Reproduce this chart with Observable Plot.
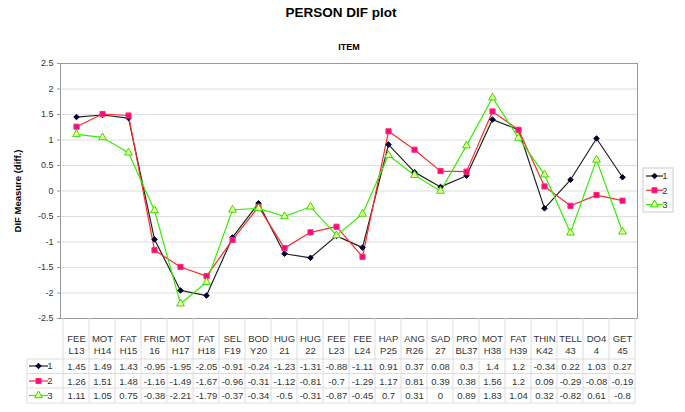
<!DOCTYPE html>
<html><head><meta charset="utf-8">
<script src="https://cdn.jsdelivr.net/npm/d3@7"></script>
<script src="https://cdn.jsdelivr.net/npm/@observablehq/plot@0.6"></script>
<style>
body{margin:0;background:#fff}
#chart{position:relative;width:685px;height:412px}
</style>
</head><body><div id="chart"></div>
<script>
const categories = ["FEE L13","MOT H14","FAT H15","FRIE 16","MOT H17","FAT H18","SEL F19","BOD Y20","HUG 21","HUG 22","FEE L23","FEE L24","HAP P25","ANG R26","SAD 27","PRO BL37","MOT H38","FAT H39","THIN K42","TELL 43","DO4 4","GET 45"];
const seriesNames = ["1","2","3"];
const values1 = [1.45,1.49,1.43,-0.95,-1.95,-2.05,-0.91,-0.24,-1.23,-1.31,-0.88,-1.11,0.91,0.37,0.08,0.3,1.4,1.2,-0.34,0.22,1.03,0.27];
const values2 = [1.26,1.51,1.48,-1.16,-1.49,-1.67,-0.96,-0.31,-1.12,-0.81,-0.7,-1.29,1.17,0.81,0.39,0.38,1.56,1.2,0.09,-0.29,-0.08,-0.19];
const values3 = [1.11,1.05,0.75,-0.38,-2.21,-1.79,-0.37,-0.34,-0.5,-0.31,-0.87,-0.45,0.7,0.31,0,0.89,1.83,1.04,0.32,-0.82,0.61,-0.8];
const yTicks = [2.5,2,1.5,1,0.5,0,-0.5,-1,-1.5,-2,-2.5];
const titleText = "PERSON DIF plot";
const subtitleText = "ITEM";
const yLabelText = "DIF Measure (diff.)";

const seriesStyle = {
  "1": {stroke:"#222222", fill:"#000033", dotStroke:"#000033", symbol:"diamond2", sym: d3.symbolDiamond2, r:2.5},
  "2": {stroke:"#ff2a2a", fill:"#ff0099", dotStroke:"#ff3355", symbol:"square", sym: d3.symbolSquare, r:2.9},
  "3": {stroke:"#33ee00", fill:"#eeff99", dotStroke:"#33dd00", symbol:"triangle", sym: d3.symbolTriangle, r:2.9}
};
const allValues = [values1, values2, values3];
const data = seriesNames.flatMap((s, i) => categories.map((c, j) => ({series: s, cat: c, value: allValues[i][j]})));

const W = 685, H = 412, mL = 60, mR = 48, mT = 63, mB = 94;
const rowDy = [48, 63, 77.5];
const rowLines = [41, 55.5, 70, 85];

function drawKey(g, x0, x1, y, st) {
  g.append("line").attr("x1", x0).attr("x2", x1).attr("y1", y).attr("y2", y)
    .attr("stroke", st.stroke).attr("stroke-width", 1.2);
  g.append("path").attr("transform", `translate(${(x0 + x1) / 2},${y})`)
    .attr("d", d3.symbol(st.sym, st.r * st.r * Math.PI)())
    .attr("fill", st.fill).attr("stroke", st.dotStroke).attr("stroke-width", 1);
}

function tableAndLegend(index, scales, values, dims) {
  const x = scales.x;
  const step = (typeof x.step === "function") ? x.step() : (x(categories[1]) - x(categories[0]));
  const left = dims.marginLeft, right = dims.width - dims.marginRight, top = dims.height - dims.marginBottom;
  const g = d3.create("svg:g");
  const gridColor = "#dcdcdc";
  const bounds = categories.map(c => x(c) - step / 2).concat([x(categories[categories.length - 1]) + step / 2]);
  bounds.forEach(b => g.append("line").attr("x1", b).attr("x2", b).attr("y1", top).attr("y2", top + rowLines[3])
    .attr("stroke", gridColor));
  const keyLeft = 27;
  g.append("line").attr("x1", keyLeft).attr("x2", keyLeft).attr("y1", top + rowLines[0]).attr("y2", top + rowLines[3]).attr("stroke", gridColor);
  rowLines.forEach(r => g.append("line").attr("x1", keyLeft).attr("x2", bounds[bounds.length - 1]).attr("y1", top + r).attr("y2", top + r).attr("stroke", gridColor));
  seriesNames.forEach((s, i) => {
    const y = top + rowDy[i];
    drawKey(g, 29, 48, y, seriesStyle[s]);
    g.append("text").attr("x", 50).attr("y", y).attr("dy", "0.35em").attr("fill", "#333").attr("font-size", 9.5).text(s);
  });
  const lx = right + 6, ly = 168;
  g.append("rect").attr("x", lx).attr("y", ly).attr("width", 30).attr("height", 44).attr("fill", "white").attr("stroke", "#cccccc");
  seriesNames.forEach((s, i) => {
    const y = ly + 8 + i * 14.3;
    drawKey(g, lx + 3, lx + 20, y, seriesStyle[s]);
    g.append("text").attr("x", lx + 22).attr("y", y).attr("dy", "0.35em").attr("fill", "#333").attr("font-size", 9.5).text(s);
  });
  return g.node();
}

const marks = [
  Plot.gridY(yTicks, {stroke: "#dddddd", strokeOpacity: 1}),
  Plot.frame({stroke: "#999999"}),
  Plot.axisY(yTicks, {tickFormat: d => String(d), tickSize: 3, tickPadding: 4, fontSize: 9, label: null, stroke: "#999"}),
  tableAndLegend
];
seriesNames.forEach((s) => {
  const st = seriesStyle[s];
  const d = data.filter(e => e.series === s);
  marks.push(Plot.line(d, {x: "cat", y: "value", stroke: st.stroke, strokeWidth: 1.2}));
});
seriesNames.forEach((s) => {
  const st = seriesStyle[s];
  const d = data.filter(e => e.series === s);
  marks.push(Plot.dot(d, {x: "cat", y: "value", symbol: st.symbol, r: st.r, fill: st.fill, stroke: st.dotStroke, strokeWidth: 1}));
});
marks.push(Plot.text(categories, {x: d => d, text: d => d.split(" ").join("\n"), frameAnchor: "bottom", dy: 26, lineAnchor: "middle", lineHeight: 1.26, fill: "#333", fontSize: 9.5}));
seriesNames.forEach((s, i) => {
  const d = data.filter(e => e.series === s);
  marks.push(Plot.text(d, {x: "cat", text: e => String(e.value), frameAnchor: "bottom", dy: rowDy[i], lineAnchor: "middle", fill: "#333", fontSize: 9.5}));
});
marks.push(Plot.text([titleText], {frameAnchor: "top", dx: -8, dy: -51, text: d => d, textAnchor: "middle", lineAnchor: "middle", fontWeight: "bold", fontSize: 13.5, fill: "#000"}));
marks.push(Plot.text([subtitleText], {frameAnchor: "top", dy: -16, text: d => d, textAnchor: "middle", lineAnchor: "middle", fontWeight: "bold", fontSize: 9, fill: "#000"}));
marks.push(Plot.text([yLabelText], {frameAnchor: "left", dx: -43, text: d => d, rotate: -90, textAnchor: "middle", lineAnchor: "middle", fontWeight: "bold", fontSize: 9.5, fill: "#000"}));

const chart = Plot.plot({
  width: W, height: H,
  marginLeft: mL, marginRight: mR, marginTop: mT, marginBottom: mB,
  style: {fontFamily: "'Liberation Sans', Arial, sans-serif", fontSize: "9.5px", background: "white", color: "#333"},
  x: {type: "point", domain: categories, padding: 0.5, align: 0.5, axis: null},
  y: {domain: [-2.5, 2.5], axis: null},
  marks
});
document.getElementById("chart").appendChild(chart);
</script>
</body></html>
